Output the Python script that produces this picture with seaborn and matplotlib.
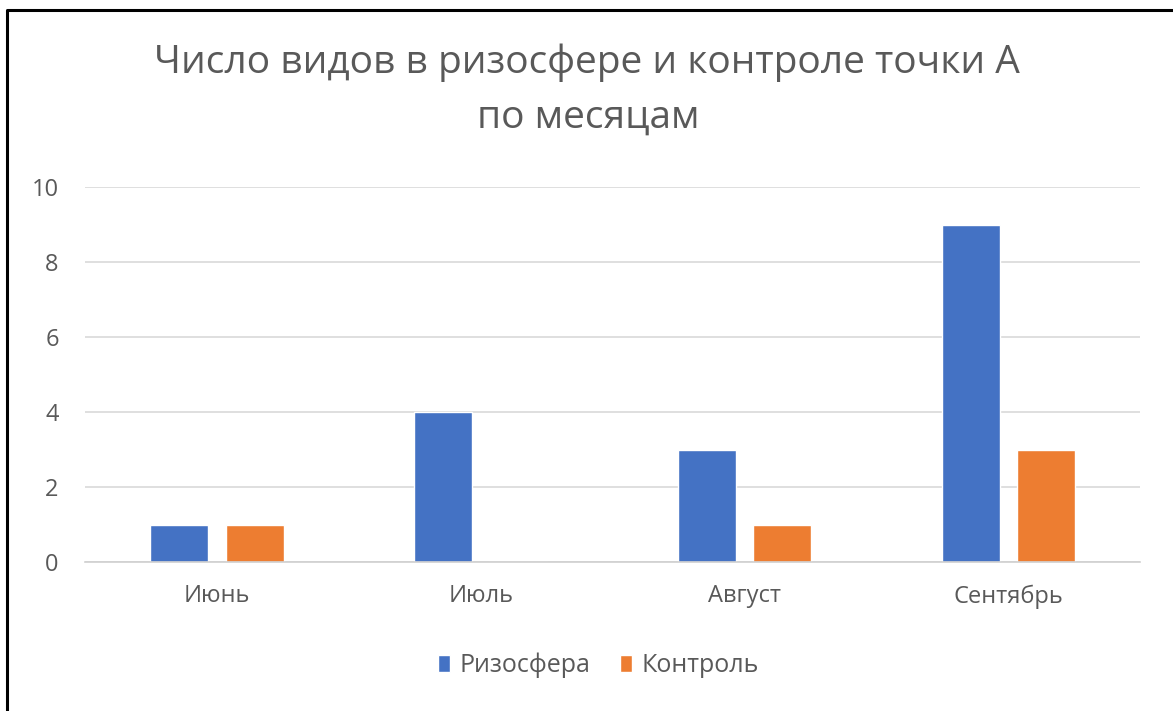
import matplotlib
matplotlib.use("Agg")
import matplotlib.pyplot as plt
import seaborn as sns
import pandas as pd
from matplotlib.lines import Line2D

months = ["Июнь", "Июль", "Август", "Сентябрь"]
rhizosphere = [1, 4, 3, 9]
control = [1, 0, 1, 3]
series_names = ["Ризосфера", "Контроль"]
yticks = [0, 2, 4, 6, 8, 10]
title_lines = ["Число видов в ризосфере и контроле точки А", "по месяцам"]

df = pd.DataFrame({
    "month": months * 2,
    "value": rhizosphere + control,
    "series": [series_names[0]] * 4 + [series_names[1]] * 4,
})

sns.set_theme(style="white")
plt.rcParams['font.family'] = ['Open Sans', 'DejaVu Sans']

fig = plt.figure(figsize=(11.73, 7.11), dpi=100)
ax = fig.add_axes([0.0725, 0.2096, 0.8995, 0.527])

sns.barplot(data=df, x="month", y="value", hue="series",
            palette=["#4472C4", "#ED7D31"], width=0.572, gap=0.23,
            saturation=1, ax=ax, legend=True)

ax.set_ylim(0, 10)
ax.set_yticks(yticks)
ax.set_xlim(-0.5, 3.5)
ax.grid(axis="y", color="#d9d9d9", linewidth=1.2)
ax.set_axisbelow(True)
for s in ["top", "right", "left"]:
    ax.spines[s].set_visible(False)
ax.spines["bottom"].set_color("#d0d0d0")
ax.spines["bottom"].set_linewidth(1.2)
ax.tick_params(axis="both", length=0, labelsize=17, colors="#595959")
ax.tick_params(axis="x", pad=16)
ax.tick_params(axis="y", pad=19)
ax.set_xlabel("")
ax.set_ylabel("")

ax.legend_.remove()
handles, labels = ax.get_legend_handles_labels()
fig.legend(handles, labels, loc="center", bbox_to_anchor=(0.51, 0.064),
           ncol=2, frameon=False, fontsize=18, handlelength=0.5,
           handleheight=0.65, handletextpad=0.35, columnspacing=1.2,
           labelcolor="#595959")

fig.text(0.5005, 1 - 73 / 711, title_lines[0], ha="center", va="baseline",
         fontsize=28, color="#595959")
fig.text(0.5015, 1 - 128 / 711, title_lines[1], ha="center", va="baseline",
         fontsize=28, color="#595959")

fig.add_artist(Line2D([6.5 / 1173, 6.5 / 1173, 1], [0, 1 - 10 / 711, 1 - 10 / 711],
                      transform=fig.transFigure, color="black", linewidth=2.2))

fig.savefig("out.png", dpi=100)
